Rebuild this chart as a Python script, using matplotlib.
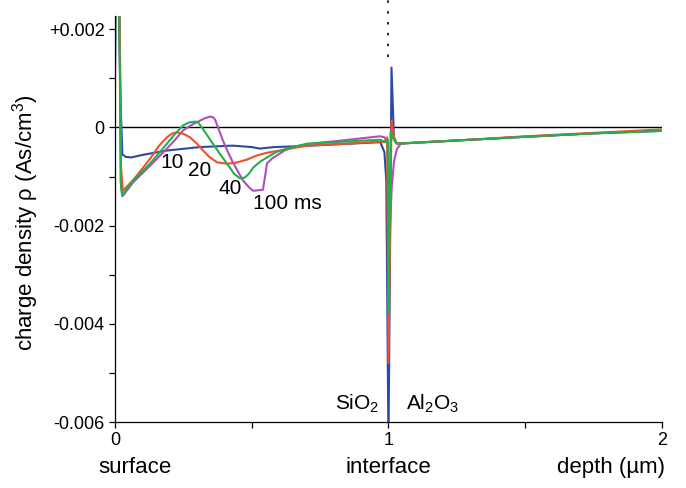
import matplotlib
matplotlib.use('Agg')
import matplotlib.pyplot as plt

plt.rcParams['font.family'] = ['Liberation Sans', 'DejaVu Sans']
plt.rcParams['mathtext.fontset'] = 'custom'
plt.rcParams['mathtext.rm'] = 'Liberation Sans'
plt.rcParams['mathtext.it'] = 'Liberation Sans'

# depth in um, charge density in As/cm^3
x_10 = [0.0, 0.012, 0.02, 0.027, 0.04, 0.06, 0.1, 0.19, 0.31, 0.43, 0.5, 0.53, 0.58, 0.68, 0.86,
        0.97, 0.985, 0.992, 1.0, 1.011, 1.02, 1.03, 1.1, 1.3, 1.5, 1.75, 2.0]
y_10 = [0.003, 0.003, 0.0006, -0.00055, -0.0006, -0.00061, -0.00056, -0.00047, -0.0004, -0.00037,
        -0.0004, -0.00043, -0.0004, -0.00038, -0.00033, -0.0003,
        -0.0005, -0.00108, -0.0065, 0.00122, -0.0002, -0.00033, -0.00031, -0.00025, -0.00019,
        -0.00012, -0.00007]

x_20 = [0.0, 0.016, 0.022, 0.029, 0.07, 0.128, 0.16, 0.19, 0.21, 0.227, 0.25, 0.274, 0.3, 0.322,
        0.345, 0.373, 0.41, 0.44, 0.48, 0.519, 0.56, 0.603, 0.702, 0.85, 0.969, 0.985, 0.995, 1.0,
        1.011, 1.02, 1.03, 1.1, 1.3, 1.5, 1.75, 2.0]
y_20 = [0.003, 0.003, -0.0008, -0.00129, -0.00105, -0.00064, -0.00038, -0.0002, -0.00012,
        -0.0001, -0.00013, -0.0002, -0.00033, -0.00047, -0.0006, -0.00071, -0.00074, -0.00072,
        -0.00066, -0.00057, -0.00051, -0.00047, -0.00037, -0.00033, -0.00029, -0.0003, -0.0002,
        -0.0048, 0.00014, -0.0002, -0.00033, -0.00031, -0.00025, -0.00018, -0.00011, -0.00004]

x_40 = [0.0, 0.004, 0.015, 0.021, 0.026, 0.066, 0.128, 0.19, 0.22, 0.249, 0.27, 0.293, 0.305,
        0.33, 0.358, 0.385, 0.41, 0.435, 0.457, 0.475, 0.49, 0.505, 0.53, 0.556, 0.59, 0.629,
        0.702, 0.969, 0.99, 0.997, 1.0, 1.008, 1.015, 1.025, 1.035, 1.1, 1.3, 1.5, 1.75, 2.0]
y_40 = [0.0013, 0.003, 0.003, -0.0011, -0.00139, -0.00108, -0.00074, -0.00033, -0.00013, 0.00004,
        0.0001, 0.00012, 0.0001, -0.0001, -0.00033, -0.00055, -0.00074, -0.00094, -0.00104,
        -0.00102, -0.00094, -0.00082, -0.0007, -0.00061, -0.0005, -0.00043, -0.00033,
        -0.00025, -0.0003, -0.00025, -0.00378, -0.0001, -0.0002, -0.0003, -0.00033, -0.00031,
        -0.00025, -0.00019, -0.00012, -0.00007]

x_100 = [0.0, 0.003, 0.016, 0.022, 0.028, 0.066, 0.128, 0.19, 0.22, 0.249, 0.28, 0.311, 0.33,
         0.347, 0.358, 0.366, 0.38, 0.395, 0.413, 0.431, 0.45, 0.468, 0.49, 0.505, 0.541, 0.548,
         0.556, 0.575, 0.592, 0.62, 0.651, 0.676, 0.75, 0.823, 0.969, 0.985, 0.998, 1.004, 1.012,
         1.02, 1.03, 1.045, 1.1, 1.3, 1.5, 1.75, 2.0]
y_100 = [0.0007, 0.003, 0.003, -0.0012, -0.0014, -0.00112, -0.00078, -0.00043, -0.00025,
         -0.00006, 0.00005, 0.00014, 0.00019, 0.00022, 0.00021, 0.00016, -0.00005, -0.00027,
         -0.0005, -0.00071, -0.0009, -0.00108, -0.00122, -0.00129, -0.00127, -0.00102, -0.00073,
         -0.00063, -0.00057, -0.00047, -0.0004, -0.00037, -0.00031, -0.00027, -0.00018, -0.0002,
         -0.0003, -0.0022, -0.0012, -0.0007, -0.00045, -0.00033, -0.00031, -0.00025, -0.00019,
         -0.00012, -0.00006]

series = [(x_10, y_10, '#2b4aa8'), (x_100, y_100, '#b04cc0'),
          (x_20, y_20, '#f0502a'), (x_40, y_40, '#22b04a')]

curve_labels = [('10', 0.21, -0.00072), ('20', 0.31, -0.00088), ('40', 0.42, -0.00125),
                ('100 ms', 0.63, -0.00155)]

fig = plt.figure(figsize=(6.86, 4.88), dpi=100)
ax = fig.add_axes([0.1676, 0.1352, 0.7974, 0.8320])

ax.plot([0, 2], [0, 0], color='black', lw=1.0, zorder=1)
for xs, ys, c in series:
    ax.plot(xs, ys, color=c, lw=1.5, zorder=2)

ax.plot([1, 1], [0.00143, 0.00262], color='black', lw=1.2,
        linestyle=(0, (1.5, 5)), clip_on=False)

for txt, tx, ty in curve_labels:
    ax.text(tx, ty, txt, fontsize=15, ha='center', va='center')

ax.text(0.885, -0.00563, 'SiO$_{\\mathregular{2}}$', fontsize=15, ha='center', va='center')
ax.text(1.16, -0.00563, 'Al$_{\\mathregular{2}}$O$_{\\mathregular{3}}$', fontsize=15,
        ha='center', va='center')

tr = ax.get_xaxis_transform()
ax.text(0.073, -0.113, 'surface', fontsize=16, ha='center', va='center', transform=tr)
ax.text(1.0, -0.113, 'interface', fontsize=16, ha='center', va='center', transform=tr)
ax.text(2.012, -0.113, 'depth (\u00b5m)', fontsize=16, ha='right', va='center', transform=tr)

ax.set_xlim(0, 2)
ax.set_ylim(-0.006, 0.00227)
ax.set_xticks([0, 1, 2])
ax.set_xticklabels(['0', '1', '2'])
ax.set_xticks([0.5, 1.5], minor=True)
ax.set_yticks([0.002, 0, -0.002, -0.004, -0.006])
ax.set_yticklabels(['+0.002', '0', '-0.002', '-0.004', '-0.006'])
ax.set_yticks([0.001, -0.001, -0.003, -0.005], minor=True)
ax.tick_params(which='both', direction='out', length=4.5, width=0.9, labelsize=13, pad=3)

ax.set_ylabel('charge density \u03c1 (As/cm$^{\\mathregular{3}}$)', fontsize=16)
ax.yaxis.set_label_coords(-0.135, 0.49)

for s in ['top', 'right']:
    ax.spines[s].set_visible(False)
for s in ['left', 'bottom']:
    ax.spines[s].set_linewidth(0.9)

fig.savefig('out.png', dpi=100)
